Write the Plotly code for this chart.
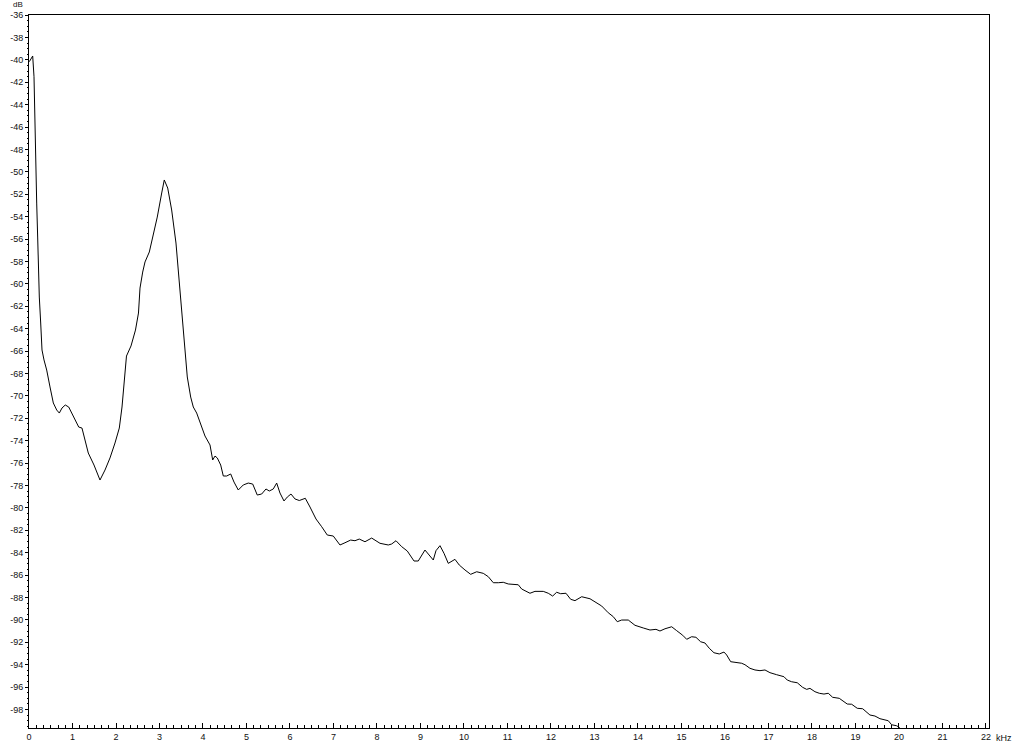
"""Spectrum plot: level in dB against frequency in kHz."""
import plotly.graph_objects as go

# frequency (kHz) and level (dB)
freq_khz = [
    0.007, 0.085, 0.115, 0.131, 0.161, 0.177, 0.200, 0.214, 0.237, 0.269,
    0.299, 0.345, 0.407, 0.483, 0.559, 0.637, 0.697, 0.759, 0.834, 0.913,
    1.018, 1.143, 1.218, 1.287, 1.363, 1.494, 1.632, 1.747, 1.862, 1.977,
    2.076, 2.138, 2.191, 2.241, 2.345, 2.448, 2.517, 2.552, 2.614, 2.667,
    2.766, 2.821, 2.949, 3.051, 3.110, 3.189, 3.280, 3.379, 3.471, 3.563,
    3.639, 3.717, 3.777, 3.855, 3.970, 4.046, 4.161, 4.223, 4.276, 4.329,
    4.407, 4.467, 4.545, 4.637, 4.713, 4.811, 4.926, 5.041, 5.143, 5.248,
    5.349, 5.448, 5.524, 5.616, 5.694, 5.770, 5.862, 5.938, 6.023, 6.115,
    6.214, 6.352, 6.460, 6.598, 6.729, 6.857, 6.995, 7.057, 7.149, 7.264,
    7.395, 7.494, 7.593, 7.724, 7.878, 8.069, 8.260, 8.338, 8.437, 8.568,
    8.697, 8.851, 8.949, 9.103, 9.179, 9.294, 9.356, 9.448, 9.540, 9.639,
    9.793, 9.892, 10.023, 10.154, 10.292, 10.444, 10.559, 10.674, 10.789, 10.903,
    11.018, 11.248, 11.326, 11.517, 11.632, 11.823, 11.938, 12.039, 12.131, 12.223,
    12.345, 12.453, 12.552, 12.706, 12.897, 13.051, 13.166, 13.317, 13.432, 13.524,
    13.625, 13.777, 13.931, 14.122, 14.276, 14.414, 14.506, 14.621, 14.775, 14.890,
    15.028, 15.120, 15.234, 15.333, 15.441, 15.540, 15.639, 15.747, 15.869, 15.977,
    16.039, 16.131, 16.269, 16.384, 16.460, 16.575, 16.690, 16.805, 16.920, 17.034,
    17.188, 17.356, 17.432, 17.533, 17.662, 17.786, 17.878, 17.954, 18.069, 18.168,
    18.276, 18.375, 18.476, 18.628, 18.811, 18.913, 19.041, 19.166, 19.333, 19.448,
    19.563, 19.754, 19.832, 19.947, 20.007, 20.100,
]
level_db = [
    -40.17, -39.66, -41.51, -45.20, -48.95, -52.79, -55.91, -58.50, -61.18, -63.50,
    -65.91, -66.80, -67.70, -69.21, -70.64, -71.27, -71.54, -71.09, -70.82, -71.00,
    -71.89, -72.79, -72.88, -73.95, -75.11, -76.18, -77.52, -76.63, -75.55, -74.21,
    -72.88, -71.00, -68.32, -66.45, -65.55, -64.13, -62.61, -60.38, -58.95, -58.05,
    -57.16, -56.27, -54.04, -51.89, -50.73, -51.45, -53.41, -56.36, -60.82, -65.29,
    -68.32, -70.11, -71.00, -71.54, -72.79, -73.59, -74.39, -75.73, -75.38, -75.55,
    -76.18, -77.16, -77.16, -76.98, -77.70, -78.41, -77.96, -77.79, -77.88, -78.86,
    -78.77, -78.32, -78.50, -78.32, -77.79, -78.68, -79.39, -79.04, -78.77, -79.21,
    -79.35, -79.15, -79.93, -81.00, -81.69, -82.43, -82.52, -82.81, -83.32, -83.12,
    -82.88, -82.94, -82.79, -83.03, -82.70, -83.17, -83.32, -83.23, -82.94, -83.47,
    -83.86, -84.75, -84.75, -83.77, -84.13, -84.66, -83.83, -83.38, -84.06, -84.96,
    -84.60, -85.11, -85.55, -85.94, -85.71, -85.85, -86.15, -86.69, -86.69, -86.65,
    -86.80, -86.87, -87.25, -87.63, -87.46, -87.46, -87.63, -87.88, -87.54, -87.67,
    -87.63, -88.17, -88.29, -87.94, -88.12, -88.47, -88.77, -89.37, -89.72, -90.17,
    -90.02, -90.02, -90.49, -90.73, -90.91, -90.85, -91.00, -90.80, -90.62, -90.97,
    -91.38, -91.74, -91.51, -91.56, -91.96, -92.07, -92.54, -92.94, -93.05, -92.88,
    -93.14, -93.74, -93.83, -93.88, -94.01, -94.33, -94.48, -94.54, -94.48, -94.72,
    -94.90, -95.08, -95.38, -95.53, -95.62, -96.03, -96.21, -96.12, -96.42, -96.56,
    -96.63, -96.56, -96.92, -97.01, -97.52, -97.54, -97.90, -97.94, -98.50, -98.59,
    -98.83, -99.01, -99.37, -99.46, -99.60, -100.00,
]

x_ticks = list(range(0, 23))
x_labels = [str(v) for v in x_ticks]
y_ticks = list(range(-36, -99, -2))
y_labels = ["-%d" % -v for v in y_ticks]  # plain hyphen, not unicode minus

tick_font = dict(family="Liberation Sans, Arial, sans-serif", size=9, color="#111")

fig = go.Figure()
fig.add_trace(go.Scatter(
    x=freq_khz,
    y=level_db,
    mode="lines",
    line=dict(color="black", width=1),
    hoverinfo="x+y",
    showlegend=False,
))

fig.update_layout(
    width=1024,
    height=745,
    margin=dict(l=29, r=35, t=15, b=17),
    paper_bgcolor="white",
    plot_bgcolor="white",
    font=tick_font,
    annotations=[
        dict(text="dB", xref="paper", yref="paper", x=0, y=1,
             xanchor="center", yanchor="middle", xshift=-11, yshift=11,
             showarrow=False, font=dict(size=8, color="#111")),
        dict(text="kHz", xref="paper", yref="paper", x=1, y=0,
             xanchor="left", yanchor="middle", xshift=5, yshift=-10,
             showarrow=False, font=tick_font),
    ],
)
fig.update_xaxes(
    range=[0, 22.07],
    tickmode="array", tickvals=x_ticks, ticktext=x_labels,
    ticks="inside", ticklen=5, tickcolor="black", tickwidth=1,
    minor=dict(tickmode="linear", tick0=0, dtick=1 / 6, ticks="inside",
               ticklen=3, tickcolor="black", showgrid=False),
    showgrid=False, zeroline=False, automargin=False,
    showline=True, linecolor="black", linewidth=1, mirror=True,
    tickfont=tick_font,
)
fig.update_yaxes(
    range=[-99.66, -36],
    tickmode="array", tickvals=y_ticks, ticktext=y_labels,
    ticks="outside", ticklen=3, tickcolor="black", tickwidth=1,
    minor=dict(tickmode="linear", tick0=0, dtick=0.5, ticks="outside",
               ticklen=1, tickcolor="black", showgrid=False),
    showgrid=False, zeroline=False, automargin=False,
    showline=True, linecolor="black", linewidth=1, mirror=True,
    tickfont=tick_font,
)

# drop the browser's default 8px body margin so the figure sits at the page corner
fig.write_html("out.html", config={"displayModeBar": False},
               post_script="document.body.style.margin='0';")
